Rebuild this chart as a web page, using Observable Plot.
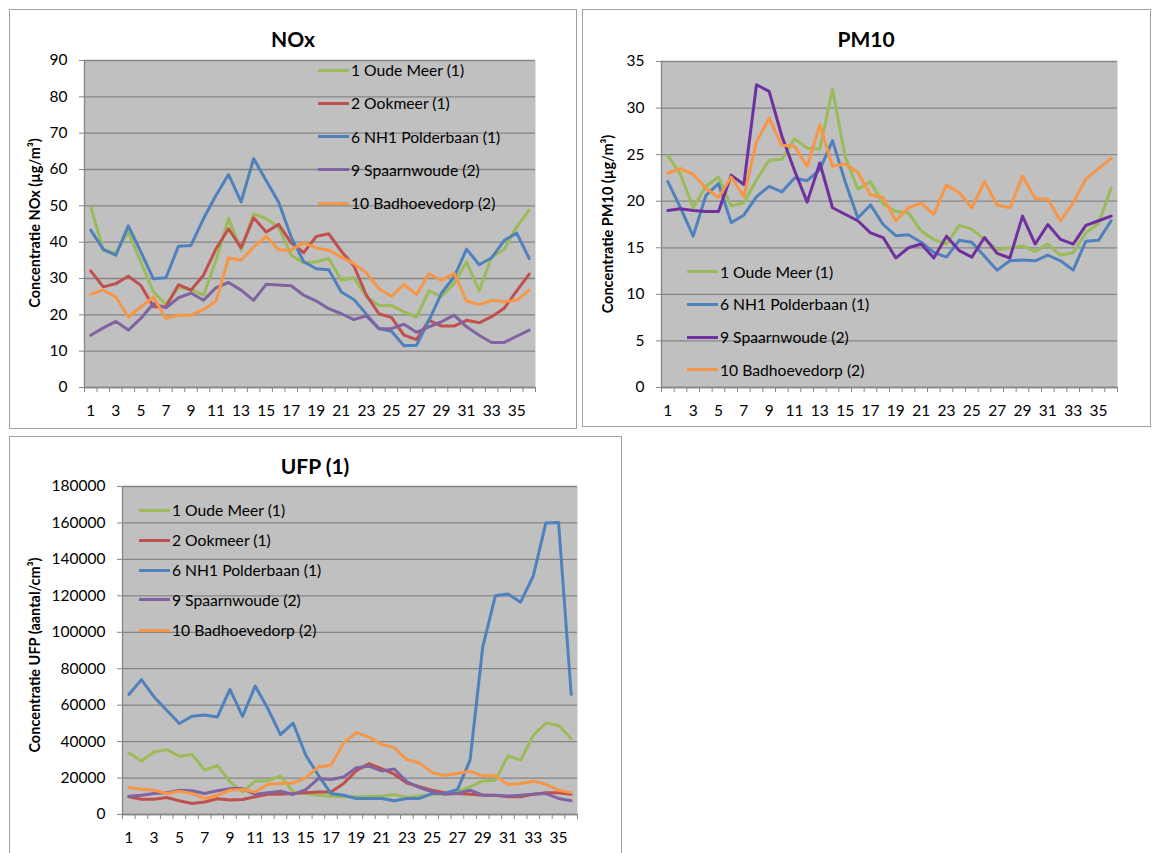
<!DOCTYPE html>
<html><head><meta charset="utf-8">
<script src="https://cdn.jsdelivr.net/npm/d3@7"></script>
<script src="https://cdn.jsdelivr.net/npm/@observablehq/plot@0.6"></script>
<style>
body{margin:0;background:#fff;width:1152px;height:853px;position:relative;overflow:hidden;font-family:Lato,"Open Sans",sans-serif;color:#000;}
.panel{position:absolute;border:1px solid #a0a0a0;box-sizing:border-box;background:#fff;}
.title{position:absolute;font-weight:bold;font-size:21px;transform:translate(-50%,-50%);white-space:nowrap;}
.ytitle{position:absolute;font-weight:bold;font-size:14.5px;transform:translate(-50%,-50%) rotate(-90deg);white-space:nowrap;}
.row{position:absolute;display:flex;align-items:center;white-space:nowrap;transform:translateY(-50%);font-size:15.7px;}
.sw{width:31px;height:3px;margin-right:2px;}
svg.chart{position:absolute;}
</style>
</head><body>
<script>
// ---------- data ----------
const categories = [1,2,3,4,5,6,7,8,9,10,11,12,13,14,15,16,17,18,19,20,21,22,23,24,25,26,27,28,29,30,31,32,33,34,35,36];
const xTickLabels = [1,3,5,7,9,11,13,15,17,19,21,23,25,27,29,31,33,35];

const noxTicks = [0,10,20,30,40,50,60,70,80,90];
const pm10Ticks = [0,5,10,15,20,25,30,35];
const ufpTicks = [0,20000,40000,60000,80000,100000,120000,140000,160000,180000];

const noxOudeMeer = [49.7,37.8,37.1,42.8,34.5,26.3,22.9,27.5,27,25.4,35,46.5,37.8,47.8,46.5,44,36.4,34.3,34.6,35.5,29.5,30.2,25,22.6,22.6,20.8,19.4,26.6,25.1,28.6,34.6,26.6,35.9,38,44.2,48.8];
const noxOokmeer = [32.1,27.7,28.6,30.6,28.1,22.2,22.2,28.3,26.8,30.9,38.2,43.7,38.5,46.7,42.8,44.9,39.8,37.1,41.6,42.3,37.5,33.5,25.4,20.3,19.3,14.4,13.2,18.5,16.9,16.9,18.5,17.8,19.5,21.8,26.6,31.2];
const noxPolderbaan = [43.3,38,36.4,44.5,37.3,29.9,30.2,38.9,39.1,46.5,52.9,58.6,51.1,63,57,51,41.4,34.6,32.7,32.4,26.3,24.2,20.2,16.2,15.5,11.5,11.6,18.5,26,30.4,38.1,33.8,35.7,40.5,42.5,35.5];
const noxSpaarnwoude = [14.4,16.4,18.2,15.8,19,23.1,21.9,24.7,26,24,27.5,28.9,26.8,24,28.4,28.2,28,25.4,23.8,21.7,20.3,18.7,19.7,16.2,16.2,17.4,15.2,16.7,18.1,19.9,16.7,14.4,12.4,12.4,14.1,15.8];
const noxBadhoevedorp = [25.7,26.8,24.9,19.4,22.2,24.9,19,19.9,19.9,21.4,23.8,35.7,35,38.7,41.6,37.9,37.8,39.8,38.4,37.8,35.9,34.1,31.5,27.2,25.1,28.4,25.6,31.3,29.5,31.5,23.8,22.8,24,23.6,24,26.8];

const pm10OudeMeer = [24.9,22.9,19.3,21.6,22.6,19.5,19.8,22.3,24.4,24.5,26.7,25.7,25.6,32,24.8,21.3,22.1,19.7,18.9,18.75,16.8,15.9,15.4,17.4,17,15.9,14.8,15,15.2,14.6,15.4,14.2,14.5,16.6,17.6,21.4];
const pm10Polderbaan = [22.1,19.3,16.25,20.6,21.9,17.7,18.5,20.5,21.6,21,22.5,22.2,23.4,26.5,22.1,18.2,19.6,17.5,16.3,16.4,15.6,14.5,14,15.8,15.6,14.1,12.6,13.6,13.7,13.6,14.2,13.6,12.6,15.7,15.8,17.9];
const pm10Spaarnwoude = [19,19.2,19,18.9,18.9,22.8,21.8,32.5,31.8,27,23.3,19.9,24.1,19.3,18.6,17.9,16.6,16.1,13.9,15,15.4,13.9,16.25,14.7,14,16.1,14.4,13.9,18.4,15.4,17.5,15.9,15.4,17.4,17.9,18.4];
const pm10Badhoevedorp = [23,23.5,22.9,21.4,20.4,22.6,20.5,26.4,28.9,26,25.9,23.75,28.2,23.75,24,23.1,20.7,20.4,17.9,19.3,19.8,18.6,21.75,20.9,19.3,22.1,19.6,19.3,22.7,20.3,20.2,17.9,19.8,22.4,23.5,24.6];

const ufpOudeMeer = [33800,29400,34300,35600,32000,33000,24300,27000,17900,12400,18400,18400,21200,12400,11500,10600,10000,9700,9800,10000,10000,11000,9300,10200,11000,11500,12400,15200,18400,18800,32100,29800,43500,50200,48900,41600];
const ufpOokmeer = [9700,8400,8400,9300,7500,6000,6900,8600,7900,8200,9700,11100,11100,11500,12000,12400,12400,17000,24000,27900,25200,22100,17300,15200,13300,11900,11500,11100,10600,10600,9700,9700,11100,11900,11900,11100];
const ufpPolderbaan = [65900,74000,64500,57200,49900,53900,54600,53500,68700,53900,70500,58100,43800,50200,32500,21500,11500,10600,8800,8800,8800,7500,8800,8800,11500,11500,13700,29800,91800,120000,121000,116500,131000,160000,160300,65900];
const ufpSpaarnwoude = [10000,10600,11500,11900,13300,13000,11500,13000,14200,14200,11100,11900,12800,11000,13700,19700,19200,20600,25700,26500,23900,25000,17900,14800,12400,11100,11500,13300,10600,10600,10200,10600,11100,11500,8800,7500];
const ufpBadhoevedorp = [14800,13900,13300,11500,12800,11500,8800,10600,13300,13700,12400,16600,17000,17300,20100,26100,27000,39300,44900,42500,38500,36700,30100,28300,23000,21400,22500,23700,21200,21200,16400,17000,18300,16600,13300,12000];

const nameOudeMeer = "1 Oude Meer (1)";
const nameOokmeer = "2 Ookmeer (1)";
const namePolderbaan = "6 NH1 Polderbaan (1)";
const nameSpaarnwoude = "9 Spaarnwoude (2)";
const nameBadhoevedorp = "10 Badhoevedorp (2)";

const colGreen = "#9bbb59", colRed = "#c0504d", colBlue = "#4f81bd", colPurple = "#8064a2", colViolet = "#7030a0", colOrange = "#f79646";

// ---------- helpers ----------
const grey = "#868686";
function el(cls, css, html){const d=document.createElement("div");d.className=cls;Object.assign(d.style,css);if(html!==undefined)d.innerHTML=html;document.body.appendChild(d);return d;}

function chart(cfg){
  const rows = cfg.series.flatMap(s => s.values.map((v,i)=>({cat:categories[i], value:v, name:s.name})));
  const bounds = d3.range(0.5, categories.length + 1, 1);
  const svg = Plot.plot({
    width: cfg.width, height: cfg.height,
    marginLeft: cfg.ml, marginTop: cfg.mt, marginRight: cfg.mr, marginBottom: cfg.mb,
    x: {type:"linear", domain:[0.5, categories.length + 0.5]},
    y: {type:"linear", domain:[cfg.ticks[0], cfg.ticks[cfg.ticks.length-1]]},
    color: {domain: cfg.series.map(s=>s.name), range: cfg.series.map(s=>s.color)},
    style: {background:"transparent", fontFamily:"Lato, 'Open Sans', sans-serif", fontSize:"15.5px", color:"#000", overflow:"visible"},
    marks: [
      Plot.frame({fill:"#c0c0c0", stroke:"none"}),
      Plot.gridY(cfg.ticks, {stroke:grey, strokeOpacity:1, strokeWidth:1.3}),
      Plot.ruleX([0.5], {stroke:grey, strokeWidth:1.3}),
      Plot.ruleY([cfg.ticks[0]], {stroke:grey, strokeWidth:1.3}),
      Plot.axisY(cfg.ticks, {tickSize:5, tickPadding:12, stroke:grey, fill:"#000", label:null, tickFormat: cfg.fmt || (d=>String(d))}),
      Plot.axisX(bounds, {tickSize:5, tickFormat:()=>"", stroke:grey, label:null}),
      Plot.axisX(xTickLabels, {tickSize:0, tickPadding:17, fill:"#000", label:null, tickFormat:d=>String(d)}),
      Plot.line(rows, {x:"cat", y:"value", z:"name", stroke:"name", strokeWidth:3, strokeLinejoin:"round", strokeLinecap:"round"})
    ]
  });
  svg.classList.add("chart");
  svg.style.left = cfg.left + "px";
  svg.style.top = cfg.top + "px";
  document.body.appendChild(svg);
}

function legend(series, x, ys){
  series.forEach((s,i)=>{
    const r = el("row", {left:x+"px", top:ys[i]+"px"});
    const sw = document.createElement("div"); sw.className="sw"; sw.style.background=s.color; r.appendChild(sw);
    const t = document.createElement("span"); t.textContent = s.name; r.appendChild(t);
  });
}

// ---------- panels ----------
el("panel", {left:"9px", top:"9px", width:"568px", height:"420px"});
el("panel", {left:"582px", top:"9px", width:"569px", height:"418px"});
el("panel", {left:"9px", top:"436px", width:"613px", height:"430px"});

const noxSeries = [
  {name:nameOudeMeer, color:colGreen, values:noxOudeMeer},
  {name:nameOokmeer, color:colRed, values:noxOokmeer},
  {name:namePolderbaan, color:colBlue, values:noxPolderbaan},
  {name:nameSpaarnwoude, color:colPurple, values:noxSpaarnwoude},
  {name:nameBadhoevedorp, color:colOrange, values:noxBadhoevedorp}
];
const pm10Series = [
  {name:nameOudeMeer, color:colGreen, values:pm10OudeMeer},
  {name:namePolderbaan, color:colBlue, values:pm10Polderbaan},
  {name:nameSpaarnwoude, color:colViolet, values:pm10Spaarnwoude},
  {name:nameBadhoevedorp, color:colOrange, values:pm10Badhoevedorp}
];
const ufpSeries = [
  {name:nameOudeMeer, color:colGreen, values:ufpOudeMeer},
  {name:nameOokmeer, color:colRed, values:ufpOokmeer},
  {name:namePolderbaan, color:colBlue, values:ufpPolderbaan},
  {name:nameSpaarnwoude, color:colPurple, values:ufpSpaarnwoude},
  {name:nameBadhoevedorp, color:colOrange, values:ufpBadhoevedorp}
];

chart({series:noxSeries, ticks:noxTicks, width:568, height:419, ml:75, mt:51, mr:42, mb:41, left:9, top:9});
chart({series:pm10Series, ticks:pm10Ticks, width:569, height:418, ml:79, mt:52, mr:34, mb:40, left:582, top:9});
chart({series:ufpSeries, ticks:ufpTicks, fmt:d3.format("d"), width:613, height:417, ml:113, mt:50, mr:45, mb:39, left:9, top:436});

el("title", {left:"293px", top:"38px"}, "NOx");
el("title", {left:"866px", top:"38px"}, "PM10");
el("title", {left:"315px", top:"465px"}, "UFP (1)");

el("ytitle", {left:"34px", top:"223px"}, "Concentratie NOx (µg/m³)");
el("ytitle", {left:"607px", top:"224px"}, "Concentratie PM10 (µg/m³)");
el("ytitle", {left:"34px", top:"655px"}, "Concentratie UFP (aantal/cm³)");

legend(noxSeries, 318, [70,103,136.5,169.5,203]);
legend(pm10Series, 687, [271.7,304.3,337,369.7]);
legend(ufpSeries, 139, [510,540,570,599.5,630]);
</script>
</body></html>
